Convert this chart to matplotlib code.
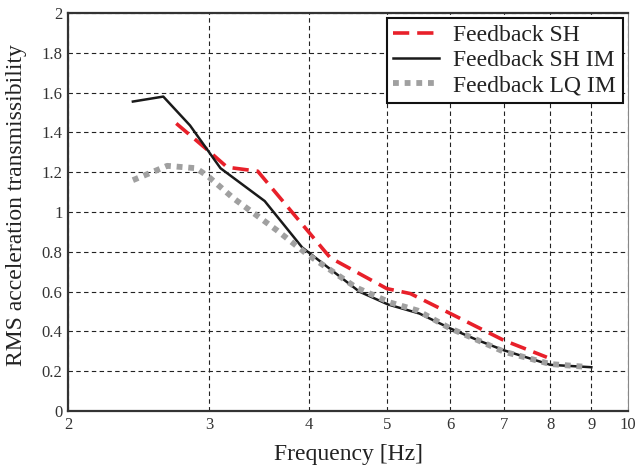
import matplotlib
matplotlib.use("Agg")
import matplotlib.pyplot as plt
from matplotlib.ticker import FixedLocator, FixedFormatter, NullLocator

plt.rcParams['font.family'] = ['Liberation Serif', 'DejaVu Serif']

# Data
f_sh = [2.73, 3.0, 3.16, 3.45, 4.25, 5.0, 5.35, 6.0, 7.0, 7.92]
v_sh = [1.445, 1.305, 1.225, 1.205, 0.77, 0.615, 0.59, 0.49, 0.355, 0.27]

f_shim = [2.41, 2.63, 2.84, 3.10, 3.52, 3.92, 4.62, 5.02, 5.49, 6.0, 6.5, 7.0, 8.0, 9.0]
v_shim = [1.555, 1.58, 1.435, 1.22, 1.055, 0.822, 0.60, 0.535, 0.49, 0.415, 0.355, 0.305, 0.232, 0.22]

f_lqim = [2.41, 2.66, 2.89, 2.99, 3.22, 3.64, 3.97, 4.58, 5.05, 5.46, 6.0, 6.5, 7.0, 8.0, 8.85]
v_lqim = [1.16, 1.232, 1.22, 1.18, 1.068, 0.91, 0.79, 0.62, 0.545, 0.505, 0.415, 0.355, 0.298, 0.236, 0.222]

xticks = [2, 3, 4, 5, 6, 7, 8, 9, 10]
xticklabels = ['2', '3', '4', '5', '6', '7', '8', '9', '10']
yticks = [0, 0.2, 0.4, 0.6, 0.8, 1.0, 1.2, 1.4, 1.6, 1.8, 2.0]
yticklabels = ['0', '0.2', '0.4', '0.6', '0.8', '1', '1.2', '1.4', '1.6', '1.8', '2']

fig = plt.figure(figsize=(6.35, 4.7), dpi=100)
ax = fig.add_axes([68/635, 59/470, 560/635, 398/470])

ax.plot(f_sh, v_sh, color='#e8202a', lw=2.6, dashes=(4.5, 2.2), label='Feedback SH', zorder=3)
ax.plot(f_shim, v_shim, color='#1a1a1a', lw=1.8, label='Feedback SH IM', zorder=4)
ax.plot(f_lqim, v_lqim, color='#a0a0a0', lw=4.2, dashes=(1.0, 1.0), label='Feedback LQ IM', zorder=5)

ax.set_xscale('log')
ax.set_xlim(2, 10)
ax.set_ylim(0, 2)
ax.xaxis.set_major_locator(FixedLocator(xticks))
ax.xaxis.set_major_formatter(FixedFormatter(xticklabels))
ax.xaxis.set_minor_locator(NullLocator())
ax.set_yticks(yticks)
ax.set_yticklabels(yticklabels)
ax.tick_params(axis='both', which='both', length=0, labelsize=12, colors='#333333', pad=4)

ax.grid(True, color='#222222', linestyle=(0, (4, 3)), linewidth=0.8)
for s in ax.spines.values():
    s.set_color('#333333')
    s.set_linewidth(1.6)
ax.spines['right'].set_linewidth(0.8)
ax.spines['right'].set_color('#888888')

ax.set_xlabel('Frequency [Hz]', fontsize=17, color='#222222', labelpad=8)
ax.set_ylabel('RMS acceleration transmissibility', fontsize=17, color='#222222')
ax.yaxis.set_label_coords(-0.074, 0.518)

leg = ax.legend(loc='upper right', fontsize=17, frameon=True, fancybox=False,
                edgecolor='#111111', framealpha=1, borderpad=0.28, labelspacing=0.15,
                handlelength=1.95, handletextpad=0.6, borderaxespad=0.22)
leg.get_frame().set_linewidth(1.5)
for t in leg.get_texts():
    t.set_color('#222222')

fig.savefig('out.png', dpi=100)
